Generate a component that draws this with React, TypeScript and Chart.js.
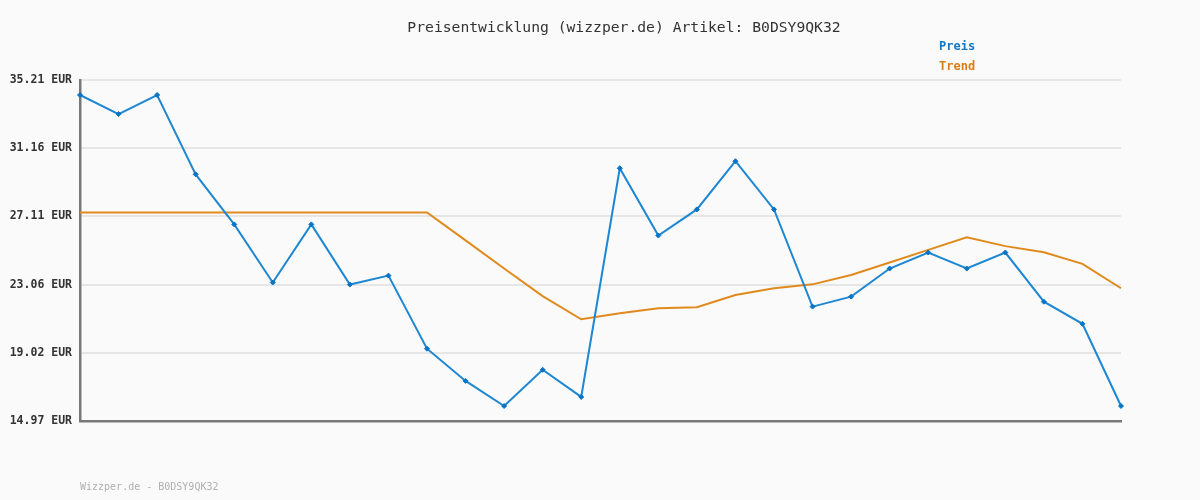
import React, { useEffect, useRef } from "react";
import { Chart, registerables } from "chart.js";

Chart.register(...registerables);

const categories: string[] = Array.from({ length: 28 }, (_, i) => String(i + 1));

const priceValues: number[] = [
  34.32, 33.19, 34.32, 29.61, 26.64, 23.19, 26.64, 23.07, 23.6, 19.26,
  17.35, 15.86, 18.01, 16.4, 29.97, 25.98, 27.53, 30.39, 27.53, 21.76,
  22.35, 24.02, 24.97, 24.02, 24.97, 22.05, 20.74, 15.86,
];

const trendValues: number[] = [
  27.35, 27.35, 27.35, 27.35, 27.35, 27.35, 27.35, 27.35, 27.35, 27.35,
  25.69, 24.02, 22.38, 21.01, 21.36, 21.66, 21.72, 22.45, 22.85, 23.08,
  23.64, 24.38, 25.13, 25.88, 25.35, 24.99, 24.3, 22.85,
];

const tickValues: number[] = [14.97, 19.02, 23.06, 27.11, 31.16, 35.21];

const titleText = "Preisentwicklung (wizzper.de) Artikel: B0DSY9QK32";
const footerText = "Wizzper.de - B0DSY9QK32";
const legendLabels = ["Preis", "Trend"];

const BLUE = "#1e87d2";
const ORANGE = "#e08a1e";
const MONO = "'DejaVu Sans Mono', 'Liberation Mono', monospace";

const textPlugin = {
  id: "textPlugin",
  afterDraw(chart: any) {
    const ctx = chart.ctx;
    ctx.save();
    ctx.textBaseline = "middle";
    ctx.textAlign = "center";
    ctx.fillStyle = "#333333";
    ctx.font = `14.7px ${MONO}`;
    ctx.fillText(titleText, 624, 28);
    ctx.textAlign = "left";
    ctx.font = `bold 12px ${MONO}`;
    ctx.fillStyle = "#1177c4";
    ctx.fillText(legendLabels[0], 939, 47);
    ctx.fillStyle = "#d97d10";
    ctx.fillText(legendLabels[1], 939, 67);
    ctx.font = `10px ${MONO}`;
    ctx.fillStyle = "#b0b0b0";
    ctx.fillText(footerText, 80, 487);
    ctx.restore();
  },
};

const bgPlugin = {
  id: "bgPlugin",
  beforeDraw(chart: any) {
    const ctx = chart.ctx;
    ctx.save();
    ctx.fillStyle = "#fafafa";
    ctx.fillRect(0, 0, chart.width, chart.height);
    ctx.restore();
  },
};

export default function App() {
  const ref = useRef<HTMLCanvasElement | null>(null);

  useEffect(() => {
    document.body.style.margin = "0";
    document.body.style.background = "#fafafa";
    if (!ref.current) return;
    const chart = new Chart(ref.current, {
      type: "line",
      data: {
        labels: categories,
        datasets: [
          {
            label: "Trend",
            data: trendValues,
            borderColor: ORANGE,
            borderWidth: 2,
            pointRadius: 0,
            tension: 0,
            order: 2,
          },
          {
            label: "Preis",
            data: priceValues,
            borderColor: BLUE,
            backgroundColor: "#0a74c4",
            borderWidth: 2,
            pointRadius: 2.5,
            pointStyle: "rectRot",
            pointBorderWidth: 1,
            pointBorderColor: "#0a74c4",
            tension: 0,
            order: 1,
          },
        ],
      },
      options: {
        animation: false,
        responsive: false,
        layout: { padding: { top: 80, bottom: 79, right: 79, left: 0 } },
        plugins: {
          legend: { display: false },
          title: { display: false },
          tooltip: { enabled: false },
        },
        scales: {
          x: {
            offset: false,
            grid: { display: false, drawTicks: false },
            border: { display: true, color: "#787878", width: 2.5 },
            ticks: { display: false },
          },
          y: {
            min: 14.97,
            max: 35.21,
            afterBuildTicks: (scale: any) => {
              scale.ticks = tickValues.map((v) => ({ value: v }));
            },
            afterFit: (scale: any) => {
              scale.width = 80;
            },
            grid: { color: "#e6e6e6", lineWidth: 2, drawTicks: false },
            border: { display: true, color: "#787878", width: 2.5 },
            ticks: {
              padding: 8,
              color: "#333333",
              font: { family: MONO, size: 11.5, weight: "bold" },
              callback: (v: any) => Number(v).toFixed(2) + " EUR",
            },
          },
        },
      },
      plugins: [bgPlugin, textPlugin],
    } as any);
    return () => chart.destroy();
  }, []);

  return (
    <div style={{ width: 1200, height: 500, background: "#fafafa" }}>
      <canvas ref={ref} width={1200} height={500} style={{ display: "block" }} />
    </div>
  );
}
